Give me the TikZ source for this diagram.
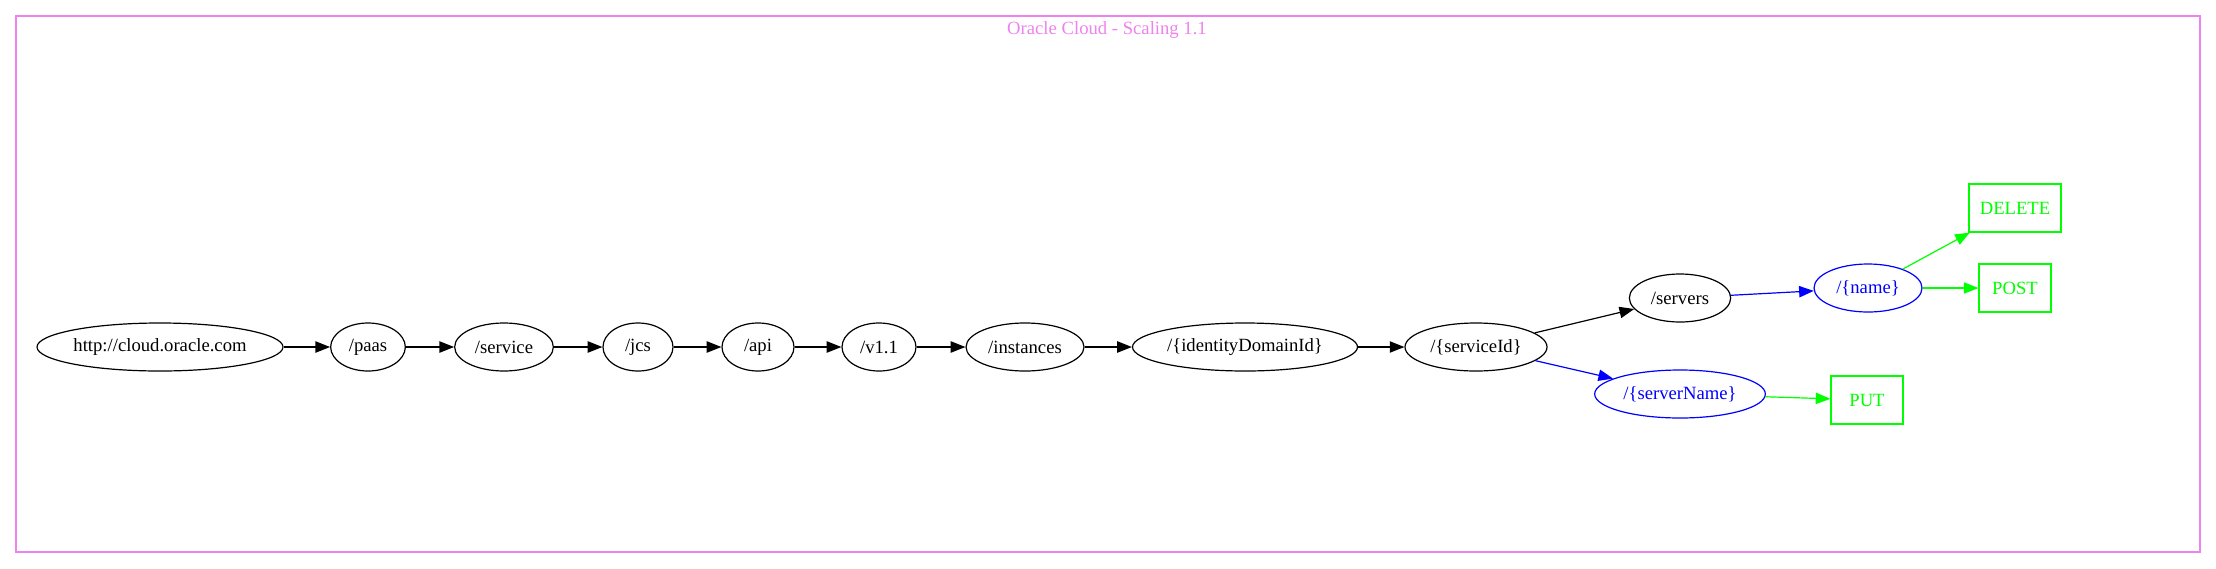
\documentclass[tikz,border=0pt]{standalone}
\usepackage{fontspec}
\setmainfont{Liberation Serif}
\usetikzlibrary{shapes.geometric,arrows.meta}
\definecolor{framepink}{HTML}{EE82EE}
\definecolor{gvgreen}{HTML}{00FF00}
\definecolor{gvblue}{HTML}{0000FF}
\begin{document}
\begin{tikzpicture}[x=0.75pt, y=-0.75pt,
    every node/.style={font=\fontsize{14pt}{16pt}\selectfont},
    res/.style={draw, ellipse, inner sep=0pt, minimum height=36pt, line width=0.9pt},
    param/.style={res, draw=gvblue, text=gvblue},
    verb/.style={draw=gvgreen, text=gvgreen, rectangle, inner sep=0pt, minimum width=54pt, minimum height=36pt, line width=0.9pt},
    link/.style={line width=0.9pt, -{Triangle[length=11pt, width=8.5pt]}}]

  \useasboundingbox (0,0) rectangle (2216,568);

  % Frame
  \draw[framepink, line width=0.9pt] (16,16) rectangle (2200,552);
  \node[text=framepink] (title) at (1107,30) {Oracle Cloud - Scaling 1.1};

  % Path
  \node[res, minimum width=184.5pt] (root) at (160,347) {http://cloud.oracle.com};
  \node[res, minimum width=56pt] (paas) at (368,347) {/paas};
  \node[res, minimum width=74pt] (service) at (504,347) {/service};
  \node[res, minimum width=52.5pt] (jcs) at (638,347) {/jcs};
  \node[res, minimum width=54pt] (api) at (758,347) {/api};
  \node[res, minimum width=55.5pt] (v11) at (879,347) {/v1.1};
  \node[res, minimum width=88.5pt] (instances) at (1025,347) {/instances};
  \node[res, minimum width=168.75pt] (domain) at (1245,347) {/\{identityDomainId\}};
  \node[res, minimum width=106.5pt] (serviceid) at (1476,347) {/\{serviceId\}};

  \node[res, minimum width=76pt] (servers) at (1680,298) {/servers};
  \node[param, minimum width=81pt] (name) at (1868,288) {/\{name\}};
  \node[param, minimum width=128pt] (servername) at (1680,394) {/\{serverName\}};

  % Methods
  \node[verb, minimum width=69pt] (delete) at (2015,208) {DELETE};
  \node[verb] (post) at (2015,288) {POST};
  \node[verb] (put) at (1867,400) {PUT};

  % Edges
  \draw[link] (root) -- (paas);
  \draw[link] (paas) -- (service);
  \draw[link] (service) -- (jcs);
  \draw[link] (jcs) -- (api);
  \draw[link] (api) -- (v11);
  \draw[link] (v11) -- (instances);
  \draw[link] (instances) -- (domain);
  \draw[link] (domain) -- (serviceid);
  \draw[link] (serviceid) -- (servers);
  \draw[link, gvblue] (serviceid) -- (servername);
  \draw[link, gvblue] (servers) -- (name);
  \draw[link, gvgreen] (name) -- (delete);
  \draw[link, gvgreen] (name) -- (post);
  \draw[link, gvgreen] (servername) -- (put);

\end{tikzpicture}
\end{document}
